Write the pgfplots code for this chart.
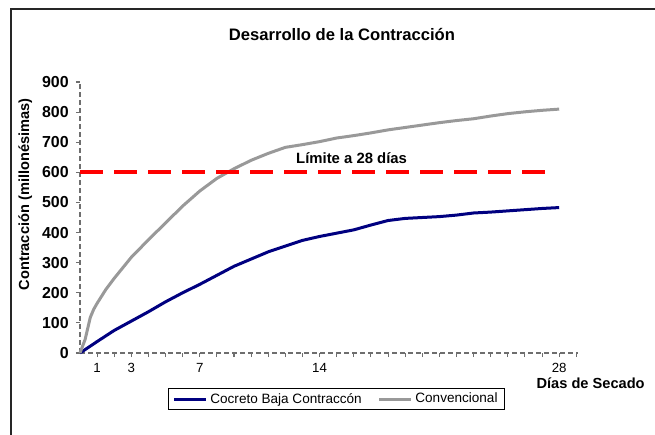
\documentclass[border=0pt]{standalone}
\usepackage{pgfplots}
\pgfplotsset{compat=1.18}
\usepackage{fontspec}
\setmainfont{Liberation Sans}

\definecolor{azul}{RGB}{0,0,128}
\definecolor{gris}{RGB}{153,153,153}
\definecolor{ejes}{RGB}{110,110,110}

\begin{document}
\begin{tikzpicture}
\useasboundingbox (0,0) rectangle (491.25bp,326.25bp);
% marco del grafico (solo borde superior e izquierdo visibles)
\draw[line width=1.2bp, black!85] (8.25bp,0) -- (8.25bp,319.5bp) -- (491.25bp,319.5bp);

\node[font=\bfseries\fontsize{12.5}{14}\selectfont] at (256.5bp,300.75bp) {Desarrollo de la Contracción};

\begin{axis}[
  at={(60bp,61.5bp)}, anchor=south west,
  scale only axis,
  width=373.5bp, height=203.25bp,
  xmin=0, xmax=29.1,
  ymin=0, ymax=900,
  axis lines=left,
  axis line style={-, ejes, dashed, line width=0.8bp, dash pattern=on 3.5bp off 2.5bp},
  tick align=outside,
  major tick length=3bp,
  tick style={ejes, line width=0.8bp},
  ytick={0,100,...,900},
  xtick={1,3,7,14,28},
  extra x ticks={2,4,5,6,8,9,10,11,12,13,15,16,17,18,19,20,21,22,23,24,25,26,27,29},
  extra x tick labels={},
  extra x tick style={tick style={ejes, line width=0.8bp}},
  /pgf/number format/assume math mode=true,
  yticklabel style={font=\bfseries\fontsize{12}{12}\selectfont, xshift=-2bp},
  xticklabel style={font=\fontsize{10}{10}\selectfont, yshift=-1bp},
  ylabel={Contracción (millonésimas)},
  ylabel style={font=\bfseries\fontsize{11}{12}\selectfont, at={(-41bp,119bp)}, anchor=center},
  clip=false,
  legend columns=2,
  legend style={at={(0.515,-0.17)}, anchor=center, draw=black, line width=0.6bp,
    font=\fontsize{10.2}{12}\selectfont, inner xsep=3bp, inner ysep=1.5bp,
    /tikz/every even column/.append style={column sep=10bp}},
  legend image code/.code={\draw[#1] (0bp,0bp) -- (24bp,0bp);},
]
\addplot[azul, line width=2.25bp] coordinates {
  (0,0) (1,38) (2,75) (3,106) (4,137) (5,170) (6,200) (7,228) (8,258)
  (9,288) (10,312) (11,336) (12,355) (13,374) (14,387) (15,398) (16,409)
  (17,425) (18,440) (19,447) (20,450) (21,453) (22,458) (23,465) (24,468)
  (25,472) (26,476) (27,480) (28,483)
};
\addlegendentry{Cocreto Baja Contraccón}
\addplot[gris, line width=2.25bp] coordinates {
  (0,0) (0.3,45) (0.6,118) (0.8,145) (1,165) (1.5,210) (2,248) (3,318) (4,376)
  (5,432) (6,488) (7,538) (8,580) (9,612) (10,640) (11,663) (12,683) (13,692)
  (14,702) (15,714) (16,722) (17,731) (18,741) (19,749) (20,757) (21,765)
  (22,772) (23,778) (24,787) (25,795) (26,801) (27,806) (28,810)
};
\addlegendentry{Convencional}
\addplot[red, line width=3bp, dash pattern=on 17.5bp off 8bp, forget plot] coordinates {
  (0,600) (27.4,600)
};
\node[font=\bfseries\fontsize{11.2}{12}\selectfont] at (axis cs:15.87,648) {Límite a 28 días};
\end{axis}

\node[font=\bfseries\fontsize{11}{12}\selectfont, anchor=east] at (487bp,39bp) {Días de Secado};
\end{tikzpicture}
\end{document}
